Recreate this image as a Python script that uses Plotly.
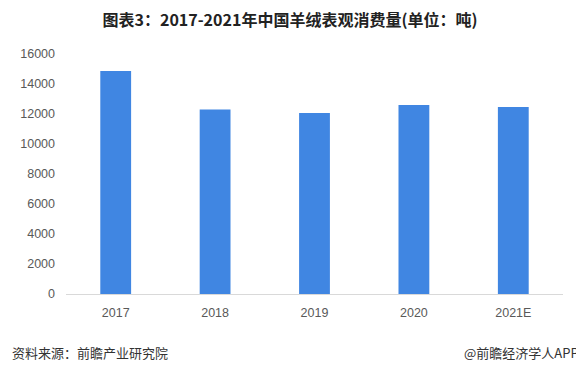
import plotly.graph_objects as go

categories = ["2017", "2018", "2019", "2020", "2021E"]
values = [14860, 12300, 12070, 12600, 12470]
y_ticks = [0, 2000, 4000, 6000, 8000, 10000, 12000, 14000, 16000]
y_tick_labels = [str(v) for v in y_ticks]

title = "图表3：2017-2021年中国羊绒表观消费量(单位：吨)"
source = "资料来源：前瞻产业研究院"
credit = "@前瞻经济学人APP"

font_num = "Liberation Sans, Arial, sans-serif"
font_cjk = "Noto Sans CJK SC, sans-serif"

# page body has an 8px default margin, so the figure is sized to fit the 584x372 window
W, H = 576, 364
ML, MR, MT, MB = 56, 21, 46, 78

fig = go.Figure(go.Bar(
    x=categories, y=values,
    marker=dict(color="#4086E2", line=dict(width=0)),
))

plot_h = H - MT - MB
ann_y = -(344 - (H - MB)) / plot_h

fig.update_layout(
    width=W, height=H,
    margin=dict(l=ML, r=MR, t=MT, b=MB),
    paper_bgcolor="white", plot_bgcolor="white",
    bargap=0.69,
    showlegend=False,
    font=dict(family=font_num, size=12, color="#595959"),
    title=dict(text="<b>" + title + "</b>", x=282 / W, xanchor="center", y=1 - 12 / H, yanchor="middle",
               font=dict(family=font_cjk, size=16, color="#222222")),
    xaxis=dict(showline=True, linecolor="#D9D9D9", linewidth=1, ticks="", ticklabelstandoff=7,
               tickfont=dict(family=font_num, size=12.5, color="#595959")),
    yaxis=dict(range=[0, 16000], tickvals=y_ticks, ticktext=y_tick_labels,
               showgrid=False, zeroline=False,
               showline=False, ticks="", ticklabelstandoff=10,
               tickfont=dict(family=font_num, size=12.5, color="#595959")),
    annotations=[
        dict(text=source, x=0, xref="paper", xanchor="left", xshift=-ML, y=ann_y, yref="paper",
             yanchor="middle", showarrow=False, font=dict(family=font_cjk, size=13, color="#333333")),
        dict(text=credit, x=1, xref="paper", xanchor="right", xshift=18, y=ann_y, yref="paper",
             yanchor="middle", showarrow=False, font=dict(family=font_cjk, size=13, color="#333333")),
    ],
)

fig.write_html("out.html")
